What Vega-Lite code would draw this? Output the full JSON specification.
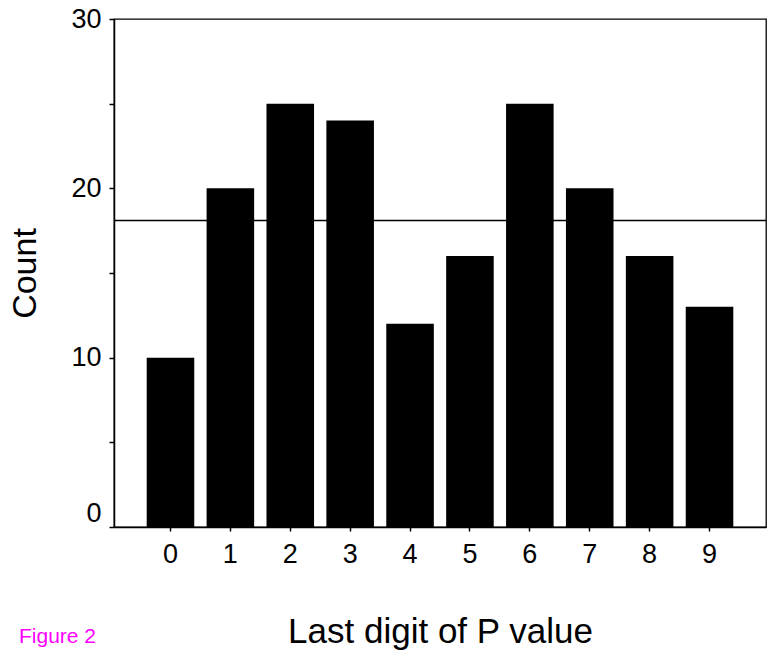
{
  "$schema": "https://vega.github.io/schema/vega-lite/v6.json",
  "width": 652,
  "height": 508,
  "autosize": {"type": "none"},
  "padding": {"left": 114, "top": 19, "right": 1, "bottom": 124},
  "background": "white",
  "title": {
    "text": "Figure 2",
    "orient": "bottom",
    "anchor": "start",
    "frame": "group",
    "color": "#FF00FF",
    "font": "Liberation Sans",
    "fontSize": 21,
    "fontWeight": "normal",
    "baseline": "alphabetic",
    "offset": 0,
    "dx": -95,
    "dy": -6
  },
  "data": {
    "values": [
      {"digit": "0", "count": 10},
      {"digit": "1", "count": 20},
      {"digit": "2", "count": 25},
      {"digit": "3", "count": 24},
      {"digit": "4", "count": 12},
      {"digit": "5", "count": 16},
      {"digit": "6", "count": 25},
      {"digit": "7", "count": 20},
      {"digit": "8", "count": 16},
      {"digit": "9", "count": 13}
    ]
  },
  "layer": [
    {
      "mark": {"type": "rule", "color": "black", "strokeWidth": 1.3},
      "encoding": {
        "y": {
          "aggregate": "mean",
          "field": "count",
          "type": "quantitative",
          "title": "Count",
          "scale": {"domain": [0, 30], "nice": false},
          "axis": {
            "values": [0, 5, 10, 15, 20, 25, 30],
            "labelExpr": "datum.value % 10 === 0 ? datum.label : ''",
            "labelBaseline": {"condition": {"test": "datum.value === 0", "value": "bottom"}, "value": "middle"}
          }
        }
      }
    },
    {
      "mark": {"type": "bar", "color": "black"},
      "encoding": {
        "x": {
          "field": "digit",
          "type": "ordinal",
          "title": "Last digit of P value",
          "scale": {"paddingInner": 0.206, "paddingOuter": 0.546}
        },
        "y": {
          "field": "count",
          "type": "quantitative",
          "title": "Count",
          "scale": {"domain": [0, 30], "nice": false},
          "axis": {
            "values": [0, 5, 10, 15, 20, 25, 30],
            "labelExpr": "datum.value % 10 === 0 ? datum.label : ''",
            "labelBaseline": {"condition": {"test": "datum.value === 0", "value": "bottom"}, "value": "middle"}
          }
        }
      }
    }
  ],
  "config": {
    "view": {"stroke": "black", "strokeWidth": 1.3},
    "axis": {
      "labelFont": "Liberation Sans",
      "titleFont": "Liberation Sans",
      "labelColor": "black",
      "titleColor": "black",
      "domainColor": "black",
      "tickColor": "black",
      "grid": false,
      "labelFontSize": 27,
      "titleFontSize": 34,
      "titleFontWeight": "normal",
      "domainWidth": 1.5,
      "tickWidth": 1.5
    },
    "axisY": {
      "tickSize": 5,
      "labelPadding": 8,
      "titleAngle": -90,
      "titleX": -79,
      "titleY": 254,
      "titleAlign": "center",
      "titleBaseline": "alphabetic"
    },
    "axisX": {
      "tickSize": 4,
      "labelPadding": 10,
      "labelAngle": 0,
      "titleFontSize": 35,
      "titleX": 326,
      "titleY": 115,
      "titleAlign": "center",
      "titleBaseline": "alphabetic"
    }
  }
}
